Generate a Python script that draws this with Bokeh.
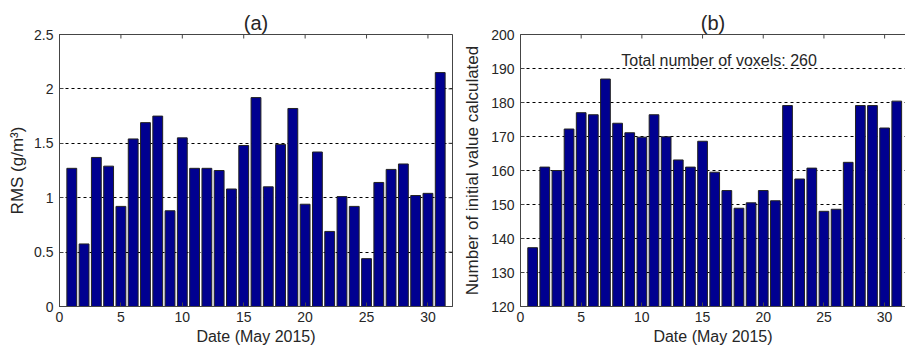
import math
from bokeh.plotting import figure
from bokeh.layouts import row
from bokeh.models import Range1d, Label, FixedTicker, ColumnDataSource, LinearAxis
from bokeh.embed import file_html
from bokeh.resources import INLINE

days = list(range(1, 32))
rms = [1.27, 0.575, 1.37, 1.29, 0.92, 1.54, 1.69, 1.75, 0.88, 1.55,
       1.27, 1.27, 1.25, 1.08, 1.48, 1.92, 1.10, 1.49, 1.82, 0.94,
       1.42, 0.69, 1.01, 0.92, 0.44, 1.14, 1.26, 1.31, 1.02, 1.04, 2.15]
counts = [137.3, 161.0, 160.0, 172.2, 177.0, 176.4, 186.9, 173.9, 171.1, 169.8,
          176.4, 169.9, 163.1, 161.0, 168.6, 159.5, 154.1, 148.9, 150.5, 154.1,
          151.1, 179.1, 157.5, 160.7, 148.0, 148.6, 162.4, 179.1, 179.1, 172.5, 180.4]
x_ticks = [0, 5, 10, 15, 20, 25, 30]
rms_ticks = [0, 0.5, 1, 1.5, 2, 2.5]
count_ticks = [120, 130, 140, 150, 160, 170, 180, 190, 200]

FONT = "Liberation Sans"
TXT = "#262626"
AX = "#454545"
BAR = "#000090"
H = 349


def style_axis(ax, ticks, label, standoff, label_standoff, label_size):
    ax.ticker = FixedTicker(ticks=ticks)
    ax.major_tick_in = 4
    ax.major_tick_out = 0
    ax.minor_tick_line_color = None
    ax.axis_line_color = AX
    ax.major_tick_line_color = AX
    ax.axis_line_width = 1
    ax.major_label_text_font = FONT
    ax.major_label_text_font_size = "14px"
    ax.major_label_text_color = TXT
    ax.major_label_standoff = standoff
    ax.axis_label = label
    ax.axis_label_text_font = FONT
    ax.axis_label_text_font_size = label_size
    ax.axis_label_text_font_style = "normal"
    ax.axis_label_text_color = TXT
    ax.axis_label_standoff = label_standoff


def make_panel(vals, y0, y1, yticks, xmax, width, bl, br, bt, ylabel, title, full_box, ylab_standoff):
    p = figure(width=width, height=H, x_range=Range1d(0, xmax), y_range=Range1d(y0, y1),
               output_backend="svg", toolbar_location=None, title=title,
               min_border_left=bl, min_border_right=br, min_border_top=bt,
               min_border_bottom=H - 306)
    p.title.align = "center"
    p.title.text_font = FONT
    p.title.text_font_size = "20px"
    p.title.text_font_style = "normal"
    p.title.text_color = TXT
    p.title.standoff = 1
    p.background_fill_color = "white"
    p.border_fill_color = "white"

    src = ColumnDataSource(dict(x=days, top=vals))
    p.vbar(x="x", top="top", bottom=y0, width=0.8, source=src,
           fill_color=BAR, line_color="#222222", line_width=1)

    p.xgrid.grid_line_color = None
    p.ygrid.grid_line_color = "black"
    p.ygrid.grid_line_dash = "3 3"
    p.ygrid.grid_line_width = 1
    p.ygrid.ticker = FixedTicker(ticks=yticks)

    style_axis(p.xaxis[0], x_ticks, "Date (May 2015)", 5, 3, "16px")
    style_axis(p.yaxis[0], yticks, ylabel, 6, ylab_standoff, "17px")

    # mirrored inward ticks on the top (and right) edges, as in the original box
    p.scatter(x=x_ticks, y=[y1] * len(x_ticks), marker="dash", angle=math.pi / 2,
              size=8, line_color=AX, line_width=1)
    if full_box:
        p.outline_line_color = AX
        p.outline_line_width = 1
        p.scatter(x=[xmax] * len(yticks), y=yticks, marker="dash",
                  size=8, line_color=AX, line_width=1)
    else:
        p.outline_line_color = None
        top = LinearAxis(ticker=FixedTicker(ticks=[]))
        top.major_label_standoff = 0
        top.major_tick_out = 0
        top.major_tick_in = 0
        top.minor_tick_line_color = None
        top.axis_line_color = AX
        top.axis_line_width = 1
        p.add_layout(top, "above")
    return p


pa = make_panel(rms, 0, 2.5, rms_ticks, 32, 460, 59, 8, 29, "RMS (g/m³)", "(a)", True, 4)
pb = make_panel(counts, 120, 200, count_ticks, 31.72, 445, 58, 0, 34,
                "Number of initial value calculated", "(b)", False, 6)
pb.add_layout(Label(x=8.3, y=192.5, text="Total number of voxels: 260", text_align="left",
                    text_baseline="middle", text_font=FONT, text_font_size="16px", text_color=TXT))

layout = row(pa, pb)
open("out.html", "w").write(file_html(layout, INLINE))
